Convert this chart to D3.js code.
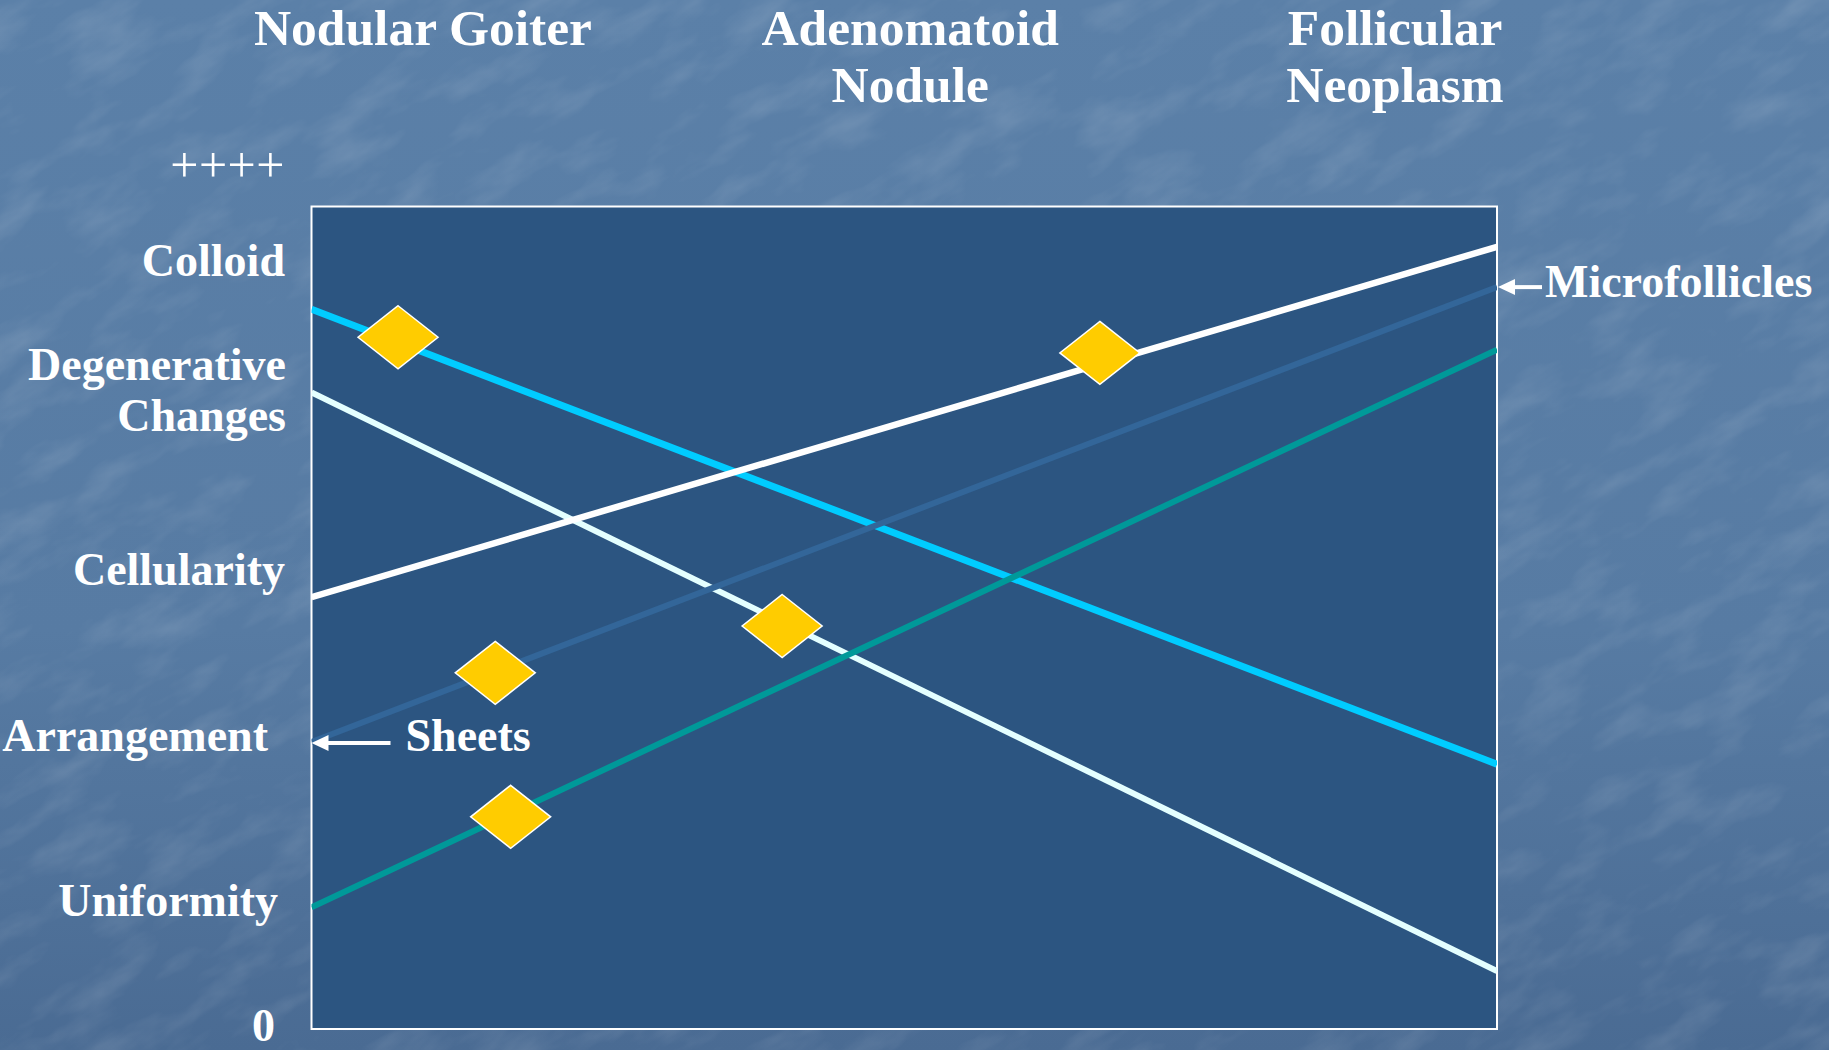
<!DOCTYPE html>
<html>
<head>
<meta charset="utf-8">
<script src="https://cdn.jsdelivr.net/npm/d3@7"></script>
<style>
  html, body { margin: 0; padding: 0; background: #55789f; }
  svg { display: block; }
</style>
</head>
<body>
<script>
// ---------------- DATA ----------------
const columnHeaders = [
  ["Nodular Goiter"],
  ["Adenomatoid", "Nodule"],
  ["Follicular", "Neoplasm"]
];
const columnHeaderX = [9.4, 50.5, 91.4];          // x-domain position of header centres

const yTickLabels = [["++++"], ["Colloid"], ["Degenerative", "Changes"], ["Cellularity"], ["Arrangement"], ["Uniformity"], ["0"]];
const yTickValues = [103.0, 91.55, 78.9, 54.0, 33.8, 13.7, -1.5];

const seriesNames  = ["Colloid", "Degenerative Changes", "Cellularity", "Arrangement", "Uniformity"];
const seriesStartX = [0, 0, 0, 0, 0];
const seriesEndX   = [100, 100, 100, 100, 100];
const seriesStart  = [87.5, 77.4, 52.5, 34.9, 14.8];
const seriesEnd    = [32.2, 7.05, 95.1, 90.2, 82.6];

const markerX = [7.3, 39.7, 66.5, 15.5, 16.8];
const markerY = [84.1, 49.0, 82.2, 43.3, 25.8];

const annotations = ["Sheets", "Microfollicles"];
const annotationAt = [[0, 34.9], [100, 90.2]];   // arrow tip (x, y) in data units

// ---------------- STYLE ----------------
const W = 1829, H = 1050;
const box = { left: 311.5, right: 1497, top: 206.5, bottom: 1029 };
const seriesColors = ["#00ccff", "#e4ffff", "#ffffff", "#336699", "#009999"];
const seriesWidths = [7, 6, 6.5, 6, 6];
const serif = "'Liberation Serif', 'Times New Roman', serif";

const svg = d3.select("body").append("svg").attr("width", W).attr("height", H);
const defs = svg.append("defs");

const grad = defs.append("linearGradient").attr("id", "bg").attr("x1", 0).attr("y1", 0).attr("x2", 0).attr("y2", 1);
grad.append("stop").attr("offset", "0%").attr("stop-color", "#5b80a8");
grad.append("stop").attr("offset", "60%").attr("stop-color", "#577ba3");
grad.append("stop").attr("offset", "100%").attr("stop-color", "#4a6b93");

const filt = defs.append("filter").attr("id", "tex").attr("x", 0).attr("y", 0).attr("width", "100%").attr("height", "100%");
filt.append("feTurbulence").attr("type", "fractalNoise").attr("baseFrequency", "0.012 0.03")
  .attr("numOctaves", 4).attr("seed", 11).attr("result", "n");
filt.append("feColorMatrix").attr("in", "n").attr("type", "matrix")
  .attr("values", "0 0 0 0 1  0 0 0 0 1  0 0 0 0 1  0 0 0 1.3 -0.6");

svg.append("rect").attr("width", W).attr("height", H).attr("fill", "url(#bg)");
svg.append("g").attr("transform", `rotate(-30 ${W/2} ${H/2})`)
  .append("rect").attr("x", -600).attr("y", -900).attr("width", W + 1200).attr("height", H + 1800)
  .attr("filter", "url(#tex)").attr("opacity", 0.2);

// ---------------- SCALES ----------------
const x = d3.scaleLinear().domain([0, 100]).range([box.left, box.right]);
const y = d3.scaleLinear().domain([0, 100]).range([box.bottom, box.top]);

// plot area
svg.append("rect")
  .attr("x", x(0)).attr("y", y(100)).attr("width", x(100) - x(0)).attr("height", y(0) - y(100))
  .attr("fill", "#2c5581").attr("stroke", "#ffffff").attr("stroke-width", 2);

// column headers
columnHeaders.forEach((lines, i) => {
  const t = svg.append("text")
    .attr("x", x(columnHeaderX[i])).attr("y", 45)
    .attr("text-anchor", "middle").attr("fill", "#ffffff")
    .attr("font-family", serif).attr("font-weight", "bold").attr("font-size", 51.5);
  lines.forEach((l, j) => t.append("tspan").attr("x", x(columnHeaderX[i])).attr("dy", j === 0 ? 0 : 57).text(l));
});

// y labels
const labelRight = [285, 285, 286, 285, 268, 278, 275];
yTickLabels.forEach((lines, i) => {
  const isPlus = lines[0] === "++++";
  const t = svg.append("text")
    .attr("x", labelRight[i]).attr("y", y(yTickValues[i]))
    .attr("text-anchor", "end").attr("fill", "#ffffff")
    .attr("font-family", serif).attr("font-weight", isPlus ? "normal" : "bold")
    .attr("font-size", isPlus ? 50 : 46)
    .attr("letter-spacing", isPlus ? 0.5 : 0);
  lines.forEach((l, j) => t.append("tspan").attr("x", labelRight[i]).attr("dy", j === 0 ? 0 : 51).text(l));
});

// lines
const line = d3.line().x(d => x(d[0])).y(d => y(d[1]));
const clip = defs.append("clipPath").attr("id", "plotclip");
clip.append("rect").attr("x", x(0)).attr("y", y(100)).attr("width", x(100) - x(0)).attr("height", y(0) - y(100));
const lg = svg.append("g").attr("clip-path", "url(#plotclip)");
seriesNames.forEach((name, i) => {
  lg.append("path")
    .datum([[seriesStartX[i], seriesStart[i]], [seriesEndX[i], seriesEnd[i]]])
    .attr("d", line).attr("fill", "none")
    .attr("stroke", seriesColors[i]).attr("stroke-width", seriesWidths[i]);
});

// diamonds
const dw = 40, dh = 31.5;
markerX.forEach((mx, i) => {
  const cx = x(mx), cy = y(markerY[i]);
  svg.append("path")
    .attr("d", `M${cx},${cy - dh}L${cx + dw},${cy}L${cx},${cy + dh}L${cx - dw},${cy}Z`)
    .attr("fill", "#ffcc00").attr("stroke", "#ffffff").attr("stroke-width", 1.5);
});

// annotations with arrows
function arrowTo(tx, ty, len) {
  svg.append("line").attr("x1", tx + 12).attr("y1", ty).attr("x2", tx + len).attr("y2", ty)
    .attr("stroke", "#ffffff").attr("stroke-width", 4);
  svg.append("path")
    .attr("d", `M${tx},${ty}L${tx + 17},${ty - 8}L${tx + 17},${ty + 8}Z`)
    .attr("fill", "#ffffff");
}
// Sheets
{
  const tx = x(annotationAt[0][0]), ty = y(annotationAt[0][1]) + 1;
  arrowTo(tx, ty, 79);
  svg.append("text").attr("x", tx + 94).attr("y", ty + 8)
    .attr("fill", "#ffffff").attr("font-family", serif).attr("font-weight", "bold").attr("font-size", 46)
    .text(annotations[0]);
}
// Microfollicles
{
  const tx = x(annotationAt[1][0]) + 1, ty = y(annotationAt[1][1]);
  arrowTo(tx, ty, 44);
  svg.append("text").attr("x", tx + 47).attr("y", ty + 10)
    .attr("fill", "#ffffff").attr("font-family", serif).attr("font-weight", "bold").attr("font-size", 46)
    .text(annotations[1]);
}
</script>
</body>
</html>
